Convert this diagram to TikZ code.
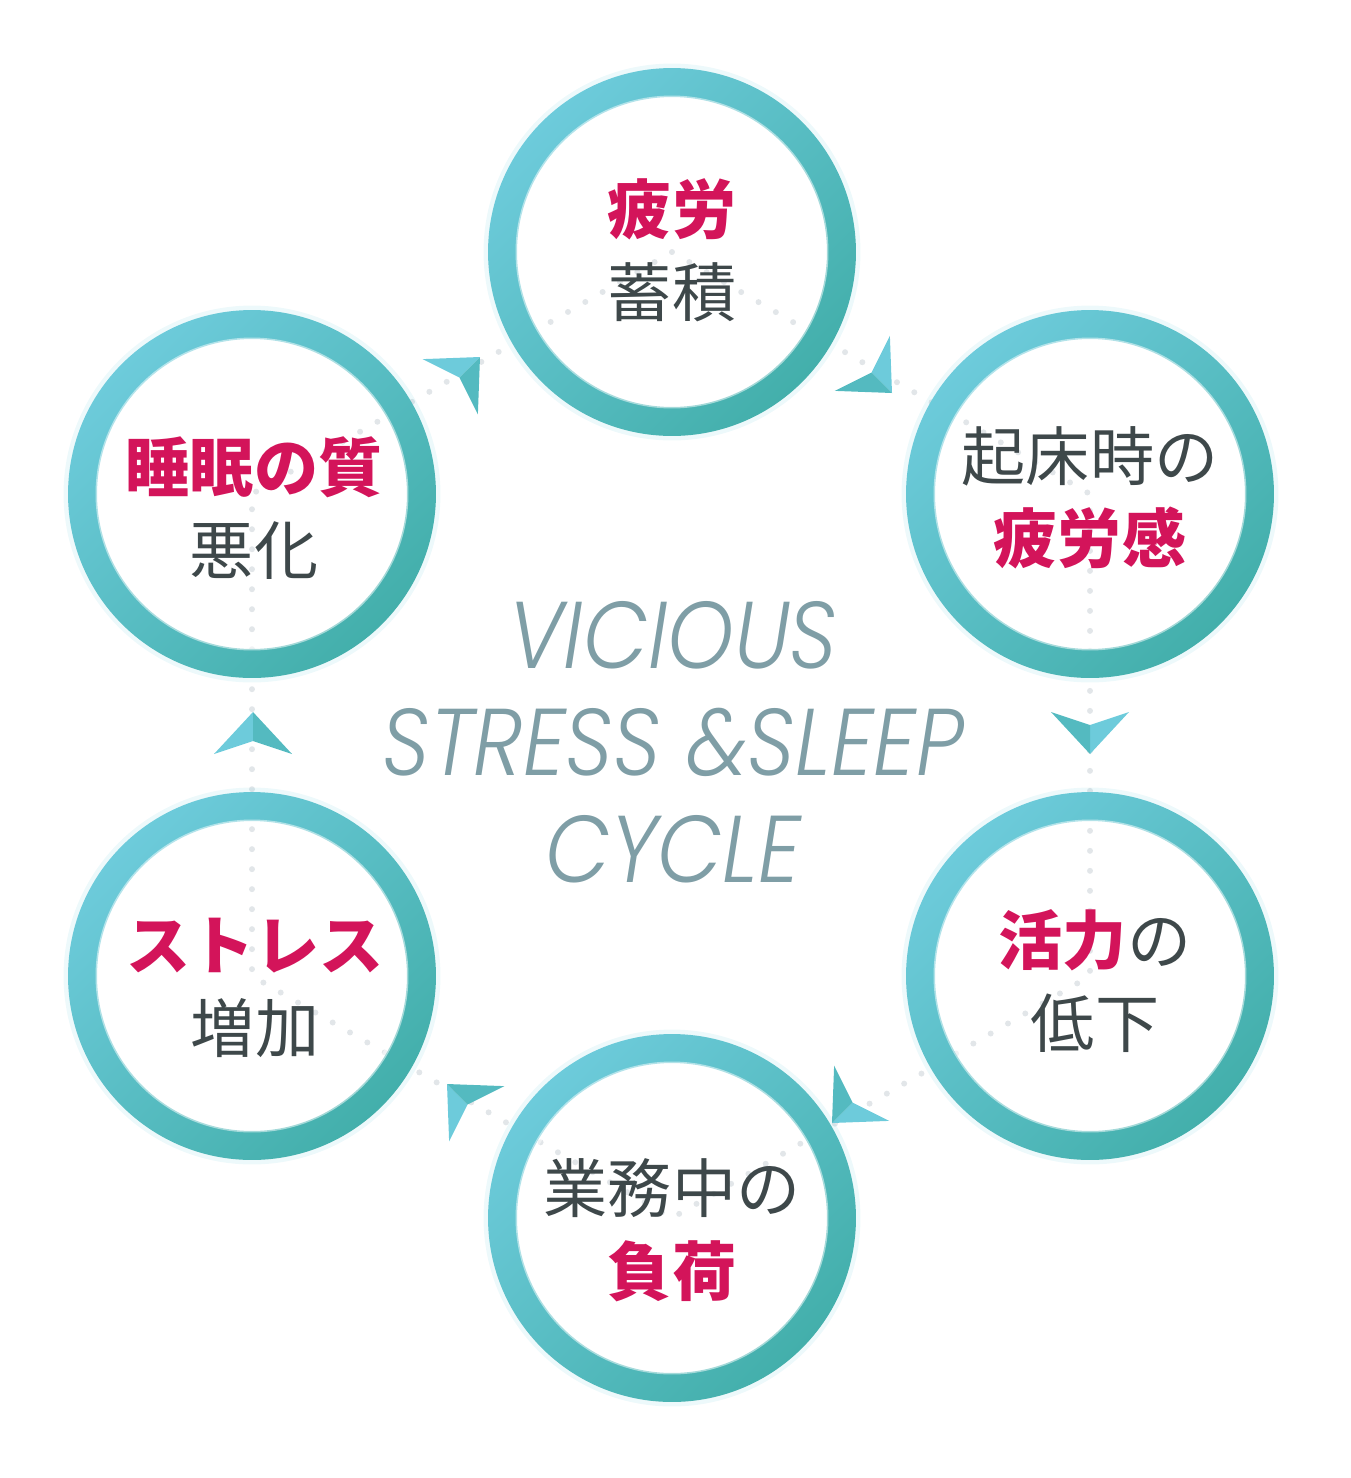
\documentclass[tikz,border=0pt]{standalone}
\usepackage{fontspec}
\usepackage{xcolor}
\usepackage{tikz}
\setmainfont{Noto Sans CJK JP}
\newfontfamily\cyclefont{Poppins Light Italic}
\definecolor{ringlight}{RGB}{109, 203, 219}
\definecolor{ringdark}{RGB}{67, 175, 171}
\definecolor{arrowfold}{RGB}{84, 186, 192}
\definecolor{accentpink}{RGB}{211, 20, 90}
\definecolor{textgray}{RGB}{62, 72, 74}
\definecolor{titlegray}{RGB}{127, 158, 166}
\definecolor{dotgray}{RGB}{226, 230, 233}

\newcommand{\hl}[1]{{\bfseries\color{accentpink}#1}}
\newcommand{\squeeze}[1]{\scalebox{0.89}[1]{#1}}
\newcommand{\cyclering}[1]{%
  \draw[ringlight, opacity=0.12, line width=0.12cm] (#1) circle[radius=3.71cm];
  \shade[even odd rule, top color=ringlight, bottom color=ringdark, shading angle=45]
    (#1) circle[radius=3.68cm] (#1) circle[radius=3.1cm];
  \draw[white, opacity=0.5, line width=0.1cm] (#1) circle[radius=3.08cm];
}
\newcommand{\cyclearrow}[3]{%
  \begin{scope}[shift={(#1,#2)}, rotate=#3]
    \fill[ringlight] (0,0) -- (-42,-39) -- (-29,0) -- cycle;
    \fill[arrowfold] (0,0) -- (-42,39) -- (-29,0) -- cycle;
  \end{scope}}

\begin{document}
\begin{tikzpicture}[
    x=0.02cm, y=-0.02cm,
    dotline/.style={dotgray, line width=0.12cm, line cap=round, dash pattern=on 0pt off 0.4cm},
    cycletext/.style={align=center, text=textgray, font=\fontsize{36.5}{47}\selectfont},
    titletext/.style={align=center, text=titlegray, font=\cyclefont\fontsize{54}{61}\selectfont}
]
\useasboundingbox (0,0) rectangle (1350,1478);

% Circle centres
\coordinate (fatigue) at (672,252);
\coordinate (wakeup) at (1090,494);
\coordinate (vitality) at (1090,976);
\coordinate (workload) at (672,1218);
\coordinate (stress) at (252,976);
\coordinate (sleep) at (252,494);

% Dotted hexagon
\draw[dotline] (fatigue) -- (wakeup) -- (vitality) -- (workload) -- (stress) -- (sleep) -- cycle;

% Rings
\cyclering{fatigue}
\cyclering{wakeup}
\cyclering{vitality}
\cyclering{workload}
\cyclering{stress}
\cyclering{sleep}

% Arrows (clockwise)
\cyclearrow{892}{393}{-45}
\cyclearrow{1090}{754}{-90}
\cyclearrow{832}{1123}{-135}
\cyclearrow{447}{1084}{135}
\cyclearrow{253}{712}{90}
\cyclearrow{480}{357}{45}

% Texts
\node[cycletext] (fatiguetext) at (672,250) {\hl{疲労}\\蓄積};
\node[cycletext] (wakeuptext) at (1090,498) {起床時の\\\hl{疲労感}};
\node[cycletext] (vitalitytext) at (1095,981) {\hl{活力}の\\低下};
\node[cycletext] (workloadtext) at (672,1230) {業務中の\\\hl{負荷}};
\node[cycletext] (stresstext) at (255,988) {\hl{ストレス}\\増加};
\node[cycletext] (sleeptext) at (254,508) {\hl{睡眠の質}\\悪化};

% Centre title
\node[titletext] (title) at (673,742) {\squeeze{VICIOUS}\\\squeeze{STRESS \&SLEEP}\\\squeeze{CYCLE}};

\end{tikzpicture}
\end{document}
